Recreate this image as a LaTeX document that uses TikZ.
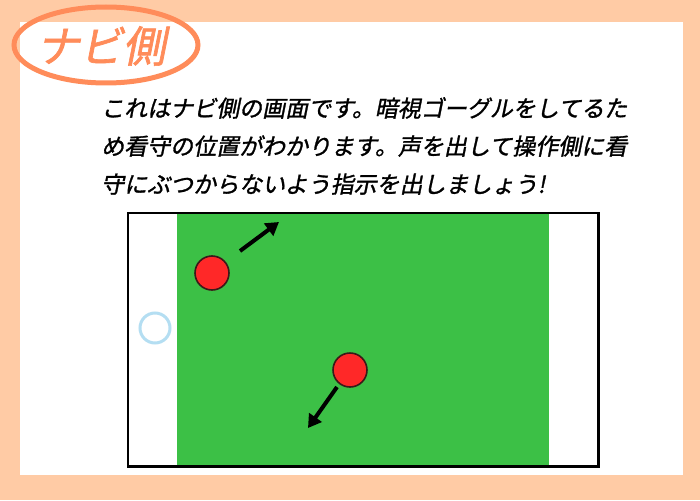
\documentclass[tikz,border=0pt]{standalone}
\usepackage{fontspec}
\usepackage{xcolor}
\newfontfamily\jpfont[FakeSlant=0.2, FakeBold=1.3]{Noto Sans CJK JP}
\newfontfamily\tagfont[FakeSlant=0.2, FakeBold=1.5]{Noto Sans CJK JP}
\usetikzlibrary{arrows.meta,shapes.geometric}
\definecolor{peach}{RGB}{255,203,165}
\definecolor{tagorange}{RGB}{255,140,90}
\definecolor{fieldgreen}{RGB}{60,192,70}
\definecolor{guardred}{RGB}{255,40,40}
\definecolor{guardline}{RGB}{60,25,25}
\definecolor{selfblue}{RGB}{180,222,242}

\begin{document}
\begin{tikzpicture}[x=1pt, y=-1pt,
  guard/.style={circle, draw=guardline, fill=guardred, line width=1.6pt, minimum size=34pt, inner sep=0pt},
  self/.style={circle, draw=selfblue, line width=3pt, minimum size=30pt, inner sep=0pt},
  move/.style={line width=4pt, -{Triangle[length=13pt, width=15pt]}}
]
\useasboundingbox (0,0) rectangle (700,500);
\fill[peach] (0,0) rectangle (700,500);
\fill[white] (20,22) rectangle (683,475);
\node[ellipse, draw=tagorange, line width=5pt, minimum width=184pt, minimum height=76pt] (tag) at (106,45) {};
\node[text=tagorange, inner sep=0pt, font=\tagfont\fontsize{43}{43}\selectfont] (tagtext) at (101,46) {ナビ側};
\node[anchor=north west, align=left, inner sep=0pt, font=\jpfont\fontsize{23}{38}\selectfont] (desc) at (101,97)
  {これはナビ側の画面です。暗視ゴーグルをしてるた\\め看守の位置がわかります。声を出して操作側に看\\守にぶつからないよう指示を出しましょう!};
% screen
\node[fill=white, anchor=north west, minimum width=470pt, minimum height=253pt, inner sep=0pt] (screen) at (128,213) {};
\node[fill=fieldgreen, anchor=north west, minimum width=372pt, minimum height=252pt, inner sep=0pt] (field) at (177,214) {};
\draw[line width=2.6pt] (screen.north west) rectangle (screen.south east);
\node[self] (me) at (155,328) {};
\node[guard] (g1) at (212,273) {};
\node[guard] (g2) at (350,370) {};
\coordinate (a1s) at (240,251);
\coordinate (a1e) at (279,222);
\coordinate (a2s) at (337,387);
\coordinate (a2e) at (308,428);
\draw[move] (a1s) -- (a1e);
\draw[move] (a2s) -- (a2e);
\end{tikzpicture}
\end{document}
